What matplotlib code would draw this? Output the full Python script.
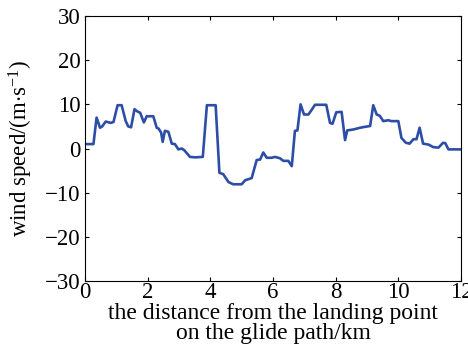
import matplotlib
matplotlib.use("Agg")
import matplotlib.pyplot as plt

# distance along the glide path (km) and wind speed (m/s)
distance_km = [0.0, 0.27, 0.37, 0.48, 0.55, 0.66, 0.82, 0.91, 1.04, 1.17, 1.30, 1.38, 1.47,
               1.58, 1.67, 1.76, 1.88, 1.97, 2.18, 2.29, 2.35, 2.43, 2.48, 2.55, 2.66,
               2.77, 2.87, 2.98, 3.09, 3.17, 3.35, 3.51, 3.76, 3.89, 4.17, 4.29, 4.41,
               4.58, 4.73, 5.00, 5.11, 5.32, 5.48, 5.59, 5.69, 5.80, 5.96, 6.06, 6.22,
               6.33, 6.49, 6.60, 6.70, 6.78, 6.88, 6.99, 7.13, 7.23, 7.34, 7.70, 7.82,
               7.90, 8.02, 8.19, 8.30, 8.37, 8.56, 8.78, 8.93, 9.10, 9.20, 9.31, 9.41,
               9.52, 9.68, 9.78, 10.00, 10.10, 10.24, 10.36, 10.48, 10.58, 10.68, 10.79,
               10.96, 11.12, 11.28, 11.43, 11.50, 11.60, 11.88, 12.0]
wind_speed = [1.0, 1.0, 7.0, 4.7, 5.0, 6.1, 5.8, 6.0, 9.8, 9.8, 6.2, 5.0, 4.8,
              8.9, 8.4, 8.1, 5.9, 7.3, 7.3, 4.7, 4.5, 3.6, 1.5, 4.0, 3.8,
              1.1, 1.0, -0.2, 0.0, -0.4, -1.9, -2.0, -1.9, 9.8, 9.8, -5.5, -5.8,
              -7.6, -8.1, -8.1, -7.2, -6.7, -2.6, -2.5, -0.9, -2.1, -2.1, -1.9, -2.2,
              -2.8, -2.8, -4.0, 4.0, 4.1, 10.0, 7.7, 7.7, 8.7, 9.9, 9.9, 5.8,
              5.6, 8.2, 8.3, 1.9, 4.1, 4.3, 4.7, 4.9, 5.1, 9.8, 7.7, 7.4,
              6.2, 6.4, 6.2, 6.2, 2.4, 1.3, 1.1, 2.1, 2.1, 4.7, 1.1,
              0.9, 0.3, 0.2, 1.3, 1.2, -0.2, -0.2, -0.2]

xticks = [0, 2, 4, 6, 8, 10, 12]
yticks = [-30, -20, -10, 0, 10, 20, 30]

plt.rcParams["font.family"] = ["Liberation Serif", "DejaVu Serif"]
plt.rcParams["mathtext.fontset"] = "custom"
plt.rcParams["mathtext.rm"] = "Liberation Serif"
plt.rcParams["mathtext.it"] = "Liberation Serif:italic"

fig = plt.figure(figsize=(4.68, 3.56), dpi=100)
ax = fig.add_axes([0.1816, 0.2107, 0.8034, 0.7443])

ax.plot(distance_km, wind_speed, color="#2d4ea6", linewidth=1.9)

ax.set_xlim(0, 12)
ax.set_ylim(-30, 30)
ax.set_xticks(xticks)
ax.set_yticks(yticks)
ax.tick_params(direction="in", length=3, width=0.8, top=True, right=True,
               labelsize=16.5)
ax.tick_params(axis="x", pad=1)
ax.tick_params(axis="y", pad=3)
for s in ax.spines.values():
    s.set_linewidth(0.8)

ax.set_xlabel("the distance from the landing point\non the glide path/km",
              fontsize=17, linespacing=0.92, labelpad=0)
ax.set_ylabel(r"wind speed/(m$\cdot$s$^{-1}$)", fontsize=16.5, labelpad=7)

fig.savefig("out.png", dpi=100)
